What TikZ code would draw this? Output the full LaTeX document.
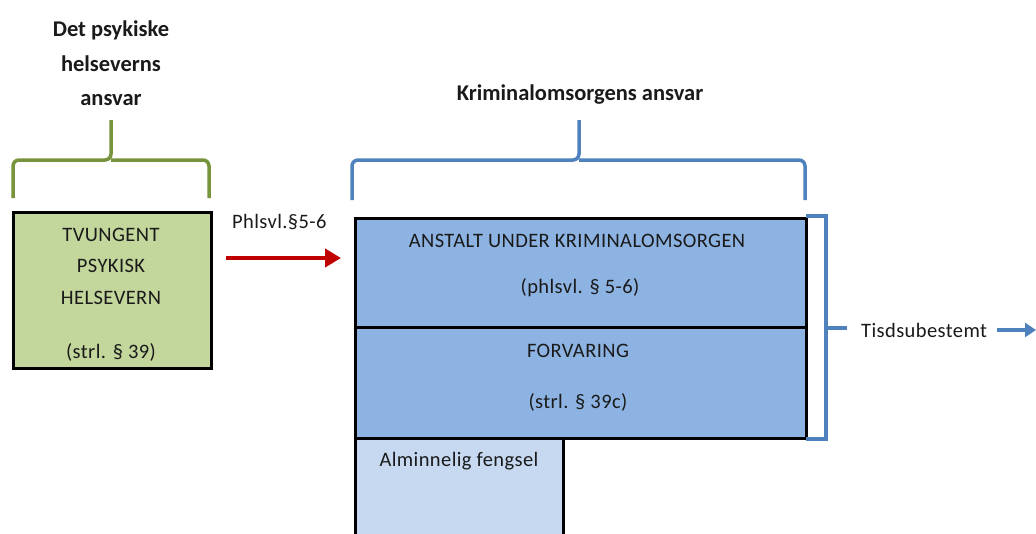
\documentclass[tikz,border=0pt]{standalone}
\usepackage{fontspec}
\setmainfont{Carlito}
\usetikzlibrary{arrows.meta}
\definecolor{boxgreen}{HTML}{C3D69B}
\definecolor{bracegreen}{HTML}{77933C}
\definecolor{boxblue}{HTML}{8DB3E2}
\definecolor{boxlight}{HTML}{C6D9F1}
\definecolor{braceblue}{HTML}{4F81BD}
\definecolor{arrowred}{HTML}{C00000}
\definecolor{txt}{HTML}{1A1A1A}
\newfontfamily\spaced[LetterSpace=2]{Carlito}
\tikzset{
  box/.style={draw=black, line width=2.5pt, inner sep=0pt, anchor=north west},
  lbl/.style={text=txt, font=\spaced\fontsize{20.5}{24}\selectfont, inner sep=0pt},
  head/.style={text=txt, font=\bfseries\fontsize{22.5}{26}\selectfont, inner sep=0pt},
  brace/.style={line width=3.5pt, rounded corners=6pt},
}
\begin{document}
\begin{tikzpicture}[x=1pt,y=-1pt]
\useasboundingbox (0,0) rectangle (1036,533);
% green box
\node[box, fill=boxgreen, minimum width=198pt, minimum height=156pt] (g) at (12,211) {};
\node[lbl] (g1) at (111,235) {TVUNGENT};
\node[lbl] (g2) at (111,266) {PSYKISK};
\node[lbl] (g3) at (111,298) {HELSEVERN};
\node[lbl] (g4) at (111,352) {(strl. § 39)};
% green brace
\draw[bracegreen, brace] (13,198) -- (13,160) -- (111,160) -- (111,120);
\draw[bracegreen, brace] (209,198) -- (209,160) -- (111,160);
\node[head] (h1) at (111,30) {Det psykiske};
\node[head] (h2) at (111,64) {helseverns};
\node[head] (h3) at (111,100) {ansvar};
% blue boxes
\node[box, fill=boxlight, minimum width=208pt, minimum height=110pt] (c) at (354,437) {};
\node[box, fill=boxblue, minimum width=451pt, minimum height=110pt] (a) at (354,217) {};
\node[box, fill=boxblue, minimum width=451pt, minimum height=111pt] (b) at (354,326) {};
\node[lbl] (a1) at (577,241) {ANSTALT UNDER KRIMINALOMSORGEN};
\node[lbl] (a2) at (580,288) {(phlsvl. § 5-6)};
\node[lbl] (b1) at (578,351) {FORVARING};
\node[lbl] (b2) at (578,402) {(strl. § 39c)};
\node[lbl] (c1) at (459,461) {Alminnelig fengsel};
% blue brace
\draw[braceblue, brace] (352,200) -- (352,160) -- (579,160) -- (579,120);
\draw[braceblue, brace] (805,200) -- (805,160) -- (579,160);
\node[head] (k) at (580,95) {Kriminalomsorgens ansvar};
% red arrow
\coordinate (rs) at (226,258);
\coordinate (re) at (341,258);
\draw[arrowred, line width=4pt, -{Triangle[length=16pt,width=18pt]}] (rs) -- (re);
\node[lbl, anchor=west] (p) at (232,222) {Phlsvl.§5-6};
% right bracket
\draw[braceblue, line width=4pt] (806,216) -- (826,216) -- (826,439) -- (806,439);
\coordinate (bt) at (826,328);
\coordinate (bt2) at (847,328);
\draw[braceblue, line width=4pt] (bt) -- (bt2);
\node[lbl, anchor=west] (t) at (861,330) {Tisdsubestemt};
\coordinate (ts) at (997,330);
\coordinate (te) at (1036,330);
\draw[braceblue, line width=4pt, -{Triangle[length=11pt,width=14pt]}] (ts) -- (te);
\end{tikzpicture}
\end{document}
